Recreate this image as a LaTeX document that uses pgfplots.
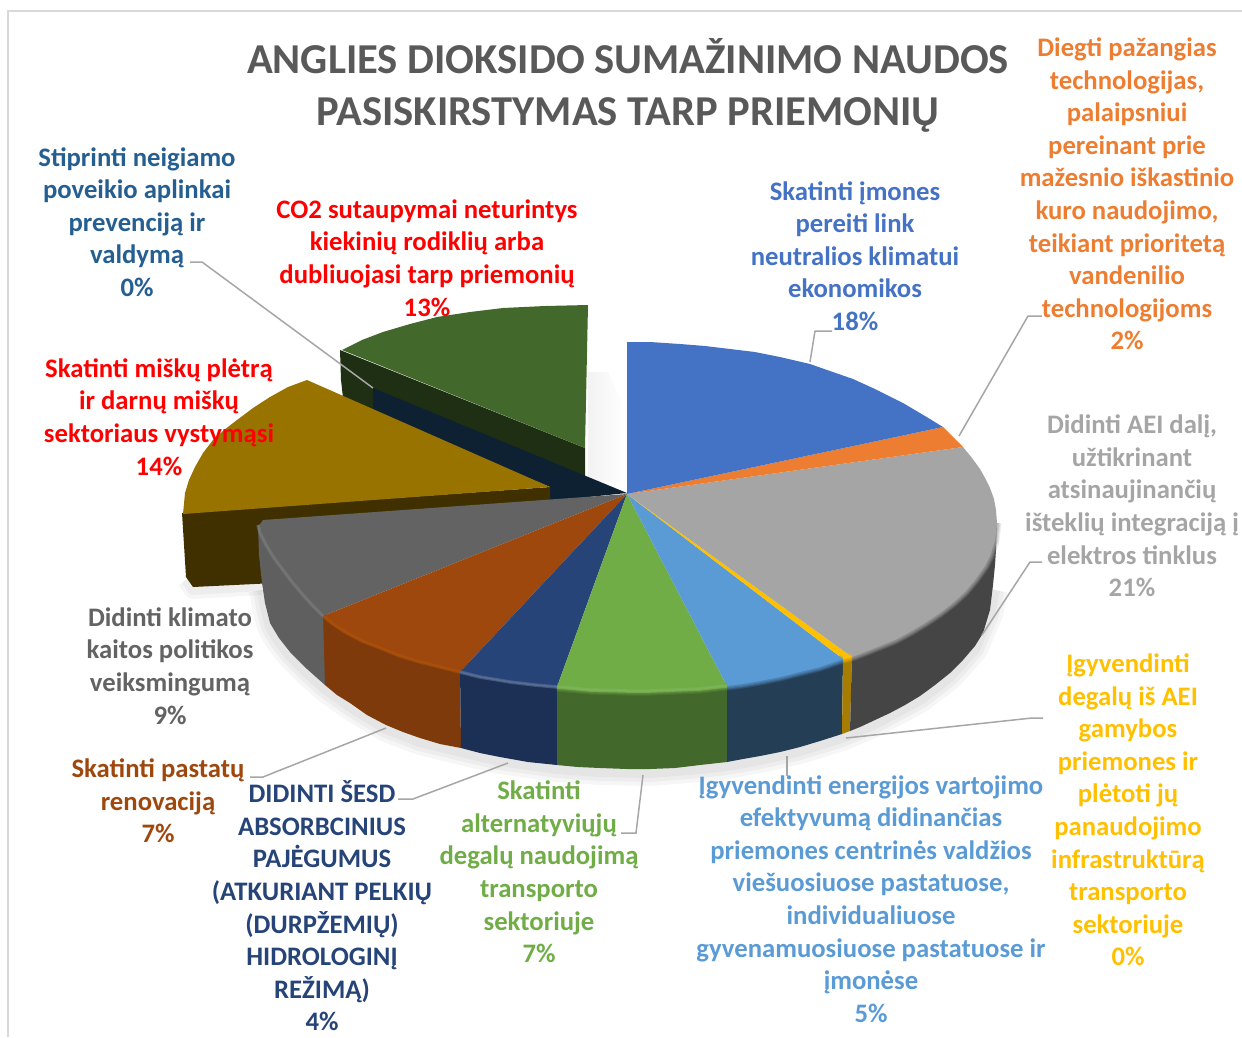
\documentclass[border=0pt]{standalone}
\usepackage{fontspec}
\setmainfont{Carlito}
\usepackage{pgfplots}
\usepackage{pgfplotstable}
\pgfplotsset{compat=1.18}

\definecolor{cBlue}{HTML}{4472C4}
\definecolor{cOrange}{HTML}{ED7D31}
\definecolor{cGray}{HTML}{A5A5A5}
\definecolor{cGold}{HTML}{FFC000}
\definecolor{cSky}{HTML}{5B9BD5}
\definecolor{cGreen}{HTML}{70AD47}
\definecolor{cNavy}{HTML}{264478}
\definecolor{cRust}{HTML}{9E480E}
\definecolor{cDim}{HTML}{636363}
\definecolor{cOlive}{HTML}{43682B}
\definecolor{cOchre}{HTML}{997300}
\definecolor{cDeep}{HTML}{255E91}
\definecolor{cLead}{HTML}{A6A6A6}

\tikzset{
  lab/.style={font=\fontsize{26.7}{32.6}\selectfont\bfseries,align=center,inner sep=0pt},
  ttl/.style={font=\fontsize{42.6}{52}\selectfont\bfseries,align=center,inner sep=0pt,text=black!65},
}

% front rim of the pie, one piece per slice
\pgfplotstableread{
x y
997 523
996 532
995 541
990 556
985 566
975 580
965 592
953 603
940 613
925 623
910 632
895 640
880 646
865 652
852 657
}\rimGray
\pgfplotstableread{
x y
852 657
843 659
}\rimGold
\pgfplotstableread{
x y
843 659
820 667
800 672
780 677
760 681
743 684
727 686
}\rimSky
\pgfplotstableread{
x y
727 686
700 689
675 690
650 691
627 691
590 690
557 687
}\rimGreen
\pgfplotstableread{
x y
557 687
535 685
510 682
480 677
460 672
}\rimNavy
\pgfplotstableread{
x y
460 672
440 667
420 662
400 656
380 648
362 641
345 632
333 624
323 616
}\rimRust
\pgfplotstableread{
x y
323 616
312 605
303 595
292 582
283 570
274 558
266 545
260 533
258 525
}\rimDim
% bottom silhouette, for the soft shadow
\pgfplotstableread{
x y
262 590
265 607
270 627
279 642
290 656
307 673
325 689
350 707
386 729
420 742
461 752
500 761
557 769
600 772
650 773
700 769
727 766
760 760
800 751
842 738
875 724
920 700
950 677
975 649
990 614
995 590
}\rimBase
\pgfplotstableread{
x y
186 580
193 590
262 586
}\rimGoldBase

\newcommand{\softedge}[2]{%
  \addplot[draw=#2,line width=9pt,opacity=.18,line join=round] table {#1};
  \addplot[draw=#2,line width=7pt,opacity=.25,line join=round] table {#1};
  \addplot[draw=#2,line width=5pt,opacity=.3,line join=round] table {#1};
  \addplot[draw=#2,line width=3pt,opacity=.4,line join=round] table {#1};
}
\newcommand{\shine}[2]{%
  \addplot[draw=#2,line width=3.5pt,opacity=.55,line join=round] table {#1};
  \addplot[draw=#2,line width=1.5pt,opacity=.6,line join=round] table {#1};
}
\newcommand{\haze}[2]{%
  \addplot[draw=black,line width=#2,opacity=.035,line join=round] table {#1};
}

\begin{document}
\begin{tikzpicture}
\useasboundingbox (0,0) rectangle (1242pt,1037pt);
\begin{axis}[
  at={(0,0)}, anchor=south west,
  scale only axis, width=1242pt, height=1037pt,
  xmin=0, xmax=1242, ymin=0, ymax=1037, y dir=reverse,
  hide axis, clip=false,
]
% chart frame
\addplot[draw=black!15,line width=2pt] coordinates {(8,1037) (8,11) (1242,11)};

% soft shadows
\haze{\rimBase}{26pt}
\haze{\rimBase}{18pt}
\haze{\rimBase}{10pt}
\haze{\rimGoldBase}{18pt}
\haze{\rimGoldBase}{10pt}
\addplot[draw=none,left color=black!5,right color=white] coordinates {(588,372) (608,372) (626,410) (626,482) (588,482)};

% detached slice: dark green
\addplot[draw=none,fill=cOlive!45!black] coordinates {(340,350) (585,448) (585,478) (627,494) (373,412) (343,398) (341,380)};
\addplot[draw=none,fill=cOlive] coordinates {(588,305) (585,448) (342,350) (362,340) (383,332) (410,324) (437,317) (470,312) (503,308) (545,306)};
% detached slice: deep blue sliver
\addplot[draw=none,fill=cDeep!35!black] coordinates {(373,388) (627,493) (550,501) (550,487) (373,412)};
% detached slice: ochre
\addplot[draw=none,fill=cOchre!42!black] coordinates {(182,513) (186,577) (193,587) (275,583) (275,530) (550,505) (550,487)};
\addplot[draw=none,fill=cOchre] coordinates {(307,380) (550,487) (183,514) (185,493) (189,480) (195,467) (203,453) (213,440) (224,430) (237,420) (253,408) (270,397) (288,387)};

% side walls
\addplot[draw=none,fill=cDim!96!black] coordinates {(258,525) (259,555) (262,583) (265,603) (270,623) (279,638) (290,652) (307,669) (325,685) (326,612) (303,590) (283,566) (268,546)};
\addplot[draw=none,fill=cRust!80!black] coordinates {(323,612) (325,685) (337,695) (350,703) (367,715) (386,725) (403,732) (420,738) (440,744) (461,748) (460,668) (420,658) (380,644) (345,628)};
\addplot[draw=none,fill=cNavy!70!black] coordinates {(460,668) (461,748) (480,753) (500,757) (528,762) (557,765) (557,683) (510,678) (480,673)};
\addplot[draw=none,fill=cGreen!60!black] coordinates {(557,683) (557,765) (578,767) (600,768) (627,769) (650,769) (675,768) (700,765) (727,762) (727,682) (700,685) (650,687) (590,686)};
\addplot[draw=none,fill=cSky!40!black] coordinates {(727,682) (727,762) (743,759) (760,756) (780,752) (800,747) (820,741) (842,734) (843,655) (800,668) (760,677)};
\addplot[draw=none,fill=cGold!65!black] coordinates {(843,655) (842,734) (850,731) (852,653)};
\addplot[draw=none,fill=black!73] coordinates {(852,653) (850,731) (860,727) (875,720) (890,713) (905,705) (920,696) (935,685) (950,673) (963,660) (975,646) (983,633) (990,610) (993,585) (995,565) (996,550) (997,523) (995,537) (985,562) (965,588) (940,609) (910,628) (880,642)};

% top faces
\addplot[draw=none,fill=cDim] coordinates {(627,494) (323,616) (312,605) (303,595) (292,582) (283,570) (274,558) (266,545) (260,533) (258,527) (263,520)};
\addplot[draw=none,fill=cRust] coordinates {(627,494) (460,672) (440,667) (420,662) (400,656) (380,648) (362,641) (345,632) (333,624) (323,616)};
\addplot[draw=none,fill=cNavy] coordinates {(627,494) (557,687) (535,685) (510,682) (480,677) (460,672)};
\addplot[draw=none,fill=cGreen] coordinates {(627,494) (727,686) (700,689) (675,690) (650,691) (627,691) (590,690) (557,687)};
\addplot[draw=none,fill=cSky] coordinates {(627,494) (843,659) (820,667) (800,672) (780,677) (760,681) (743,684) (727,686)};
\addplot[draw=none,fill=cGold] coordinates {(627,494) (852,657) (843,659)};
\addplot[draw=none,fill=cGray] coordinates {(627,494) (963,447) (972,458) (980,469) (985,478) (990,488) (994,499) (996,510) (997,523) (996,532) (995,541) (990,556) (985,566) (975,580) (965,592) (953,603) (940,613) (925,623) (910,632) (895,640) (880,646) (865,652) (852,657)};
\addplot[draw=none,fill=cOrange] coordinates {(627,494) (943,427) (963,447)};
\addplot[draw=none,fill=cBlue] coordinates {(627,494) (627,342) (650,342) (680,344) (705,346) (730,349) (755,352) (780,357) (810,364) (830,371) (853,379) (875,389) (903,403) (925,416) (943,427)};

% rim shading
\softedge{\rimGray}{cGray}
\softedge{\rimSky}{cSky}
\softedge{\rimGold}{cGold}
\softedge{\rimGreen}{cGreen}
\shine{\rimGreen}{cGreen!88!white}
\shine{\rimNavy}{cNavy!72!white}
\shine{\rimRust}{cRust!82!orange}
\shine{\rimDim}{black!52}

% leader lines
\addplot[draw=cLead,line width=1.5pt] coordinates {(832,331) (815,331) (810,362)};
\addplot[draw=cLead,line width=1.5pt] coordinates {(1042,316) (1028,316) (959,436)};
\addplot[draw=cLead,line width=1.5pt] coordinates {(1042,562) (1030,562) (982,635)};
\addplot[draw=cLead,line width=1.5pt] coordinates {(1043,718) (1032,718) (846,738)};
\addplot[draw=cLead,line width=1.5pt] coordinates {(787,756) (787,776)};
\addplot[draw=cLead,line width=1.5pt] coordinates {(621,833) (636,833) (643,775)};
\addplot[draw=cLead,line width=1.5pt] coordinates {(398,799) (413,799) (508,763)};
\addplot[draw=cLead,line width=1.5pt] coordinates {(250,777) (263,777) (386,728)};
\addplot[draw=cLead,line width=1.5pt] coordinates {(190,262) (202,262) (373,388)};

% title and data labels
\node[ttl] at (axis cs:628,85) {ANGLIES DIOKSIDO SUMAŽINIMO NAUDOS\\PASISKIRSTYMAS TARP PRIEMONIŲ};
\node[lab,text=cDeep] at (axis cs:137,222) {Stiprinti neigiamo\\poveikio aplinkai\\prevenciją ir\\valdymą\\0\%};
\node[lab,text=red] at (axis cs:427,258) {CO2 sutaupymai neturintys\\kiekinių rodiklių arba\\dubliuojasi tarp priemonių\\13\%};
\node[lab,text=cBlue] at (axis cs:855,256) {Skatinti įmones\\pereiti link\\neutralios klimatui\\ekonomikos\\18\%};
\node[lab,text=cOrange] at (axis cs:1127,194) {Diegti pažangias\\technologijas,\\palaipsniui\\pereinant prie\\mažesnio iškastinio\\kuro naudojimo,\\teikiant prioritetą\\vandenilio\\technologijoms\\2\%};
\node[lab,text=cGray] at (axis cs:1132,506) {Didinti AEI dalį,\\užtikrinant\\atsinaujinančių\\išteklių integraciją į\\elektros tinklus\\21\%};
\node[lab,text=cGold] at (axis cs:1128,810) {Įgyvendinti\\degalų iš AEI\\gamybos\\priemones ir\\plėtoti jų\\panaudojimo\\infrastruktūrą\\transporto\\sektoriuje\\0\%};
\node[lab,text=cSky] at (axis cs:871,899) {Įgyvendinti energijos vartojimo\\efektyvumą didinančias\\priemones centrinės valdžios\\viešuosiuose pastatuose,\\individualiuose\\gyvenamuosiuose pastatuose ir\\įmonėse\\5\%};
\node[lab,text=cGreen] at (axis cs:539,872) {Skatinti\\alternatyviųjų\\degalų naudojimą\\transporto\\sektoriuje\\7\%};
\node[lab,text=cNavy] at (axis cs:322,906) {DIDINTI ŠESD\\ABSORBCINIUS\\PAJĖGUMUS\\(ATKURIANT PELKIŲ\\(DURPŽEMIŲ)\\HIDROLOGINĮ\\REŽIMĄ)\\4\%};
\node[lab,text=cRust] at (axis cs:158,801) {Skatinti pastatų\\renovaciją\\7\%};
\node[lab,text=cDim] at (axis cs:170,666) {Didinti klimato\\kaitos politikos\\veiksmingumą\\9\%};
\node[lab,text=red] at (axis cs:159,417) {Skatinti miškų plėtrą\\ir darnų miškų\\sektoriaus vystymąsi\\14\%};
\end{axis}
\end{tikzpicture}
\end{document}
